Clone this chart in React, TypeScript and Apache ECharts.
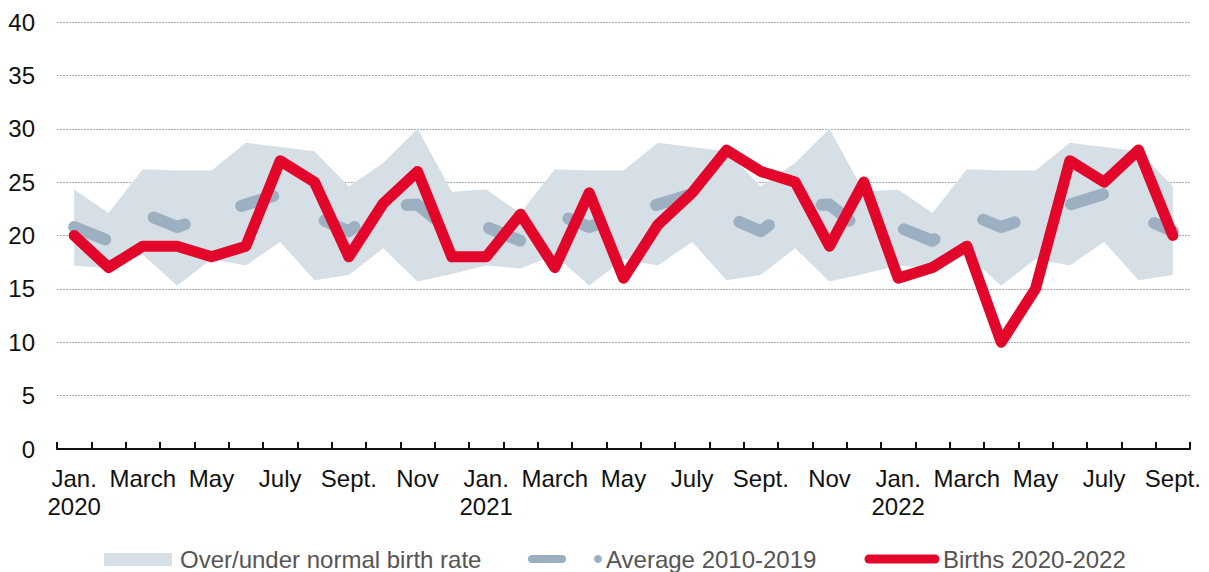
import React, { useEffect, useRef } from "react";
import * as echarts from "echarts";

const months = [
  "Jan.\n2020", "Feb.", "March", "April", "May", "June", "July", "Aug.", "Sept.", "Oct.", "Nov", "Dec.",
  "Jan.\n2021", "Feb.", "March", "April", "May", "June", "July", "Aug.", "Sept.", "Oct.", "Nov", "Dec.",
  "Jan.\n2022", "Feb.", "March", "April", "May", "June", "July", "Aug.", "Sept.",
];

const births = [
  20, 17, 19, 19, 18, 19, 27, 25, 18, 23, 26, 18,
  18, 22, 17, 24, 16, 21, 24, 28, 26, 25, 19, 25,
  16, 17, 19, 10, 15, 27, 25, 28, 20,
];

const average = [
  20.8, 19.5, 22.1, 20.8, 21.9, 22.9, 23.9, 21.8, 20.4, 22.8, 22.9, 20.3,
  20.8, 19.5, 22.1, 20.8, 21.9, 22.9, 23.9, 21.8, 20.4, 22.8, 22.9, 20.3,
  20.8, 19.5, 22.1, 20.8, 21.9, 22.9, 23.9, 21.8, 20.4,
];

const upper = [
  24.3, 22.1, 26.2, 26.1, 26.1, 28.7, 28.3, 27.9, 24.6, 26.8, 30.0, 24.1,
  24.3, 22.1, 26.2, 26.1, 26.1, 28.7, 28.3, 27.9, 24.6, 26.8, 30.0, 24.1,
  24.3, 22.1, 26.2, 26.1, 26.1, 28.7, 28.3, 27.9, 24.6,
];

const lower = [
  17.2, 16.9, 18.2, 15.3, 17.8, 17.2, 19.4, 15.8, 16.3, 18.8, 15.7, 16.4,
  17.2, 16.9, 18.2, 15.3, 17.8, 17.2, 19.4, 15.8, 16.3, 18.8, 15.7, 16.4,
  17.2, 16.9, 18.2, 15.3, 17.8, 17.2, 19.4, 15.8, 16.3,
];

const legendLabels = ["Over/under normal birth rate", "Average 2010-2019", "Births 2020-2022"];

const BAND = "#d7dfe6";
const AVG = "#9cb0c2";
const RED = "#e2062b";
const FONT = "'Liberation Sans', Arial, Helvetica, sans-serif";

export default function App() {
  const ref = useRef<HTMLDivElement>(null);

  useEffect(() => {
    if (!ref.current) return;
    const chart = echarts.init(ref.current, undefined, { renderer: "svg" });
    const diff = upper.map((u, i) => +(u - lower[i]).toFixed(2));
    const legendY = 559;
    chart.setOption({
      animation: false,
      textStyle: { fontFamily: FONT },
      grid: { left: 57, right: 19, top: 22, bottom: 123 },
      xAxis: {
        type: "category",
        data: months,
        boundaryGap: true,
        axisLine: { show: true, lineStyle: { color: "#111", width: 2 } },
        axisTick: { show: true, inside: true, length: 7, interval: 0, lineStyle: { color: "#111", width: 2 } },
        axisLabel: {
          interval: 1,
          color: "#111",
          fontSize: 24,
          fontFamily: FONT,
          lineHeight: 28,
          margin: 15,
        },
        splitLine: { show: false },
      },
      yAxis: {
        type: "value",
        min: 0,
        max: 40,
        interval: 5,
        axisLine: { show: false },
        axisTick: { show: false },
        axisLabel: { color: "#111", fontSize: 24, fontFamily: FONT, margin: 22 },
        splitLine: { show: true, lineStyle: { color: "#aaaaaa", width: 1, type: [2, 1] } },
      },
      series: [
        {
          name: "lower",
          type: "line",
          stack: "band",
          data: lower,
          showSymbol: false,
          lineStyle: { opacity: 0, width: 0 },
          areaStyle: { opacity: 0 },
          silent: true,
          z: 1,
        },
        {
          name: legendLabels[0],
          type: "line",
          stack: "band",
          data: diff,
          showSymbol: false,
          lineStyle: { opacity: 0, width: 0 },
          areaStyle: { color: BAND, opacity: 1 },
          silent: true,
          z: 1,
        },
        {
          name: legendLabels[1],
          type: "line",
          data: average,
          showSymbol: false,
          lineStyle: { color: AVG, width: 12, type: [33.5, 59.3], cap: "round", join: "round" },
          z: 2,
        },
        {
          name: legendLabels[2],
          type: "line",
          data: births,
          showSymbol: false,
          lineStyle: { color: RED, width: 11, cap: "round", join: "round" },
          z: 3,
        },
      ],
      graphic: [
        { type: "rect", shape: { x: 104, y: 553, width: 68, height: 13 }, style: { fill: BAND } },
        {
          type: "text",
          x: 180,
          y: legendY,
          style: { text: legendLabels[0], fill: "#555555", fontSize: 24, fontFamily: FONT, verticalAlign: "middle" },
        },
        {
          type: "line",
          shape: { x1: 532, y1: legendY, x2: 562, y2: legendY },
          style: { stroke: AVG, lineWidth: 8, lineCap: "round" },
        },
        { type: "circle", shape: { cx: 598, cy: legendY, r: 4 }, style: { fill: AVG } },
        {
          type: "text",
          x: 606,
          y: legendY,
          style: { text: legendLabels[1], fill: "#555555", fontSize: 24, fontFamily: FONT, verticalAlign: "middle" },
        },
        {
          type: "line",
          shape: { x1: 869, y1: legendY, x2: 935, y2: legendY },
          style: { stroke: RED, lineWidth: 9, lineCap: "round" },
        },
        {
          type: "text",
          x: 943,
          y: legendY,
          style: { text: legendLabels[2], fill: "#555555", fontSize: 24, fontFamily: FONT, verticalAlign: "middle" },
        },
      ],
    });
    return () => chart.dispose();
  }, []);

  return (
    <div
      ref={ref}
      style={{ position: "fixed", left: 0, top: 0, width: 1209, height: 572, background: "#fff" }}
    />
  );
}
